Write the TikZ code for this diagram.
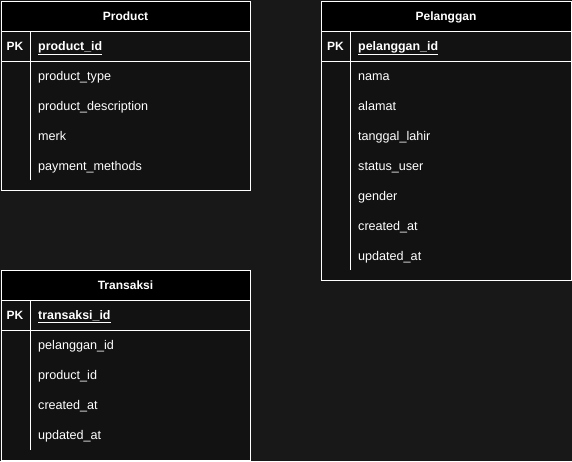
\documentclass[tikz,border=0pt]{standalone}
\usepackage{fontspec}
\setmainfont{Liberation Sans}

\definecolor{bgdark}{HTML}{181818}
\definecolor{tbldark}{HTML}{121212}

\tikzset{
  tbl/.style={draw=white,line width=1pt,fill=tbldark},
  hdr/.style={draw=white,line width=1pt,fill=black},
  sep/.style={draw=white,line width=1pt},
  title/.style={anchor=base,inner sep=0pt,text=white,font=\fontsize{12}{14}\selectfont\bfseries},
  pk/.style={anchor=base,inner sep=0pt,text=white,font=\fontsize{12}{14}\selectfont\bfseries},
  key/.style={anchor=base west,inner sep=0pt,text=white,font=\fontsize{12.4}{14}\selectfont\bfseries},
  attr/.style={anchor=base west,inner sep=0pt,text=white,font=\fontsize{12.6}{14}\selectfont},
}

\begin{document}
\begin{tikzpicture}[x=1pt,y=-1pt]

\fill[bgdark] (0,0) rectangle (572,461);
\useasboundingbox (0,0) rectangle (572,461);

% Product
\begin{scope}
\draw[tbl] (1,1) rectangle (250,190);
\draw[hdr] (1,1) rectangle (250,31);
\draw[sep] (1,61) -- (250,61);
\draw[sep] (30,31) -- (30,180);

\node[title] (prodtitle) at (125.5,20) {Product};
\node[pk] (prodpk) at (15,50) {PK};
\node[key] (prodid) at (38,50) {\underline{product\_id}};

\foreach \t [count=\i] in {product\_type,product\_description,merk,payment\_methods}
  \node[attr] (prodattr\i) at (38,50+30*\i) {\t};
\end{scope}

% Pelanggan
\begin{scope}
\draw[tbl] (321,1) rectangle (571,280);
\draw[hdr] (321,1) rectangle (571,31);
\draw[sep] (321,61) -- (571,61);
\draw[sep] (350,31) -- (350,270);

\node[title] (pelgtitle) at (446,20) {Pelanggan};
\node[pk] (pelgpk) at (335.5,50) {PK};
\node[key] (pelgid) at (358,50) {\underline{pelanggan\_id}};

\foreach \t [count=\i] in {nama,alamat,tanggal\_lahir,status\_user,gender,created\_at,updated\_at}
  \node[attr] (pelgattr\i) at (358,50+30*\i) {\t};
\end{scope}

% Transaksi
\begin{scope}
\draw[tbl] (1,270) rectangle (250,460);
\draw[hdr] (1,270) rectangle (250,300);
\draw[sep] (1,330) -- (250,330);
\draw[sep] (30,300) -- (30,450);

\node[title] (transtitle) at (125.5,289) {Transaksi};
\node[pk] (transpk) at (15,319) {PK};
\node[key] (transid) at (38,319) {\underline{transaksi\_id}};

\foreach \t [count=\i] in {pelanggan\_id,product\_id,created\_at,updated\_at}
  \node[attr] (transattr\i) at (38,319+30*\i) {\t};
\end{scope}

\end{tikzpicture}
\end{document}
